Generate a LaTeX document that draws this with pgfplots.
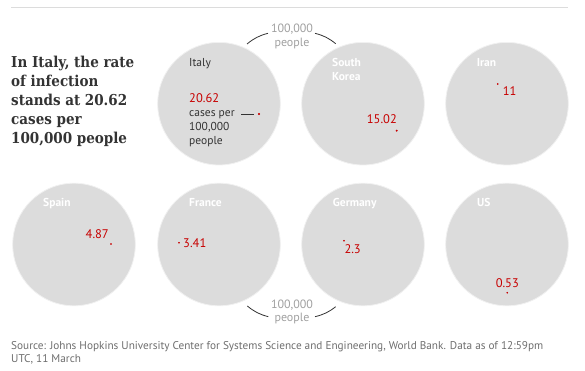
\documentclass[border=0pt]{standalone}
\usepackage{pgfplots}
\pgfplotsset{compat=1.18}
\usepackage{pgfplotstable}
\usepackage{fontspec}
\setmainfont{PT Sans}
\newfontfamily\titlefont{DejaVu Serif Condensed}
\definecolor{circ}{HTML}{DCDCDC}
\definecolor{gred}{HTML}{C70000}
\definecolor{dark}{HTML}{333333}
\definecolor{annot}{HTML}{A0A0A0}
\definecolor{src}{HTML}{6E6E6E}

\pgfplotstableread{
x y
219 103.7
363 103.7
507 103.7
74 244.5
219 244.5
363 244.5
507 244.5
}\circledata

\pgfplotstableread{
x y v
259 114 20.62
396.7 130.7 15.02
497.7 84 11
111 244 4.87
179 242.7 3.41
344 240.7 2.3
507.3 292.7 0.53
}\casedata

\tikzset{
  lab/.style={anchor=base west, inner sep=0pt, text=dark, font=\fontsize{11.5bp}{14bp}\selectfont},
  wlab/.style={anchor=base west, inner sep=0pt, text=white, font=\bfseries\fontsize{11.5bp}{14bp}\selectfont},
  val/.style={anchor=base west, inner sep=0pt, text=gred, font=\fontsize{12.5bp}{14bp}\selectfont},
  ttl/.style={anchor=base west, inner sep=0pt, text=dark, font=\titlefont\bfseries\fontsize{15bp}{19bp}\selectfont},
  ann/.style={anchor=base, inner sep=0pt, text=annot, font=\fontsize{12bp}{14bp}\selectfont},
  srct/.style={anchor=base west, inner sep=0pt, text=src, font=\fontsize{11.25bp}{13.4bp}\selectfont},
}

\begin{document}
\begin{tikzpicture}
\begin{axis}[width=585bp, height=371bp, scale only axis,
  xmin=0, xmax=585, ymin=0, ymax=371, y dir=reverse,
  hide axis, clip=false, set layers]
\path (axis cs:0,0) rectangle (axis cs:585,371);
\addplot[only marks, mark=*, mark size=61.3bp, mark options={fill=circ, draw=white!60!circ, line width=0.8bp}] table[x=x, y=y] {\circledata};
\addplot[scatter, only marks, mark=*,
  point meta=explicit,
  scatter/use mapped color={draw=gred, fill=gred},
  visualization depends on={\thisrow{v} \as \vv},
  scatter/@pre marker code/.append style={/tikz/mark size={max(0.6,0.1938*sqrt(\vv))}}]
  table[x=x, y=y, meta=v] {\casedata};

\begin{pgfonlayer}{axis foreground}
\draw[circ, line width=1bp] (axis cs:11,8) -- (axis cs:568,8);
% title
\node[ttl] at (axis cs:11,67.7) {In Italy, the rate};
\node[ttl] at (axis cs:11,86.7) {of infection};
\node[ttl] at (axis cs:11,105.7) {stands at 20.62};
\node[ttl] at (axis cs:11,124.7) {cases per};
\node[ttl] at (axis cs:11,143.7) {100,000 people};

% Italy
\node[lab] at (axis cs:189,66.7) {Italy};
\node[val] at (axis cs:189,103) {20.62};
\node[lab] at (axis cs:189,116.7) {cases per};
\node[lab] at (axis cs:189,130.7) {100,000};
\node[lab] at (axis cs:189,144.5) {people};
\draw[dark, line width=0.8bp] (axis cs:241,114) -- (axis cs:254,114);

% South Korea
\node[wlab] at (axis cs:332,66.7) {South};
\node[wlab] at (axis cs:332,80.7) {Korea};
\node[val] at (axis cs:366.7,124) {15.02};
% Iran
\node[wlab] at (axis cs:476.7,66.7) {Iran};
\node[val] at (axis cs:502.7,96) {11};
% Spain
\node[wlab] at (axis cs:43,206.7) {Spain};
\node[val, anchor=base east] at (axis cs:109,239) {4.87};
% France
\node[wlab] at (axis cs:189,206.7) {France};
\node[val] at (axis cs:183,247.7) {3.41};
% Germany
\node[wlab] at (axis cs:332.7,206.7) {Germany};
\node[val] at (axis cs:344.3,254) {2.3};
% US
\node[wlab] at (axis cs:477,206.7) {US};
\node[val, anchor=base] at (axis cs:507.3,288) {0.53};

% 100,000 people annotations
\node[ann] at (axis cs:292,33) {100,000};
\node[ann] at (axis cs:292,47) {people};
\draw[dark, line width=0.8bp] (axis cs:247,44) to[bend left=12] (axis cs:268,33.3);
\draw[dark, line width=0.8bp] (axis cs:315,33.3) to[bend left=12] (axis cs:335.7,43.7);
\node[ann] at (axis cs:292,308.3) {100,000};
\node[ann] at (axis cs:292,321.7) {people};
\draw[dark, line width=0.8bp] (axis cs:247.3,306) to[bend right=12] (axis cs:268.3,316.7);
\draw[dark, line width=0.8bp] (axis cs:315,316.7) to[bend right=12] (axis cs:335.7,306.7);

% source
\node[srct] at (axis cs:11,349.3) {Source: Johns Hopkins University Center for Systems Science and Engineering, World Bank. Data as of 12:59pm};
\node[srct] at (axis cs:11,362.7) {UTC, 11 March};
\end{pgfonlayer}
\end{axis}
\end{tikzpicture}
\end{document}
